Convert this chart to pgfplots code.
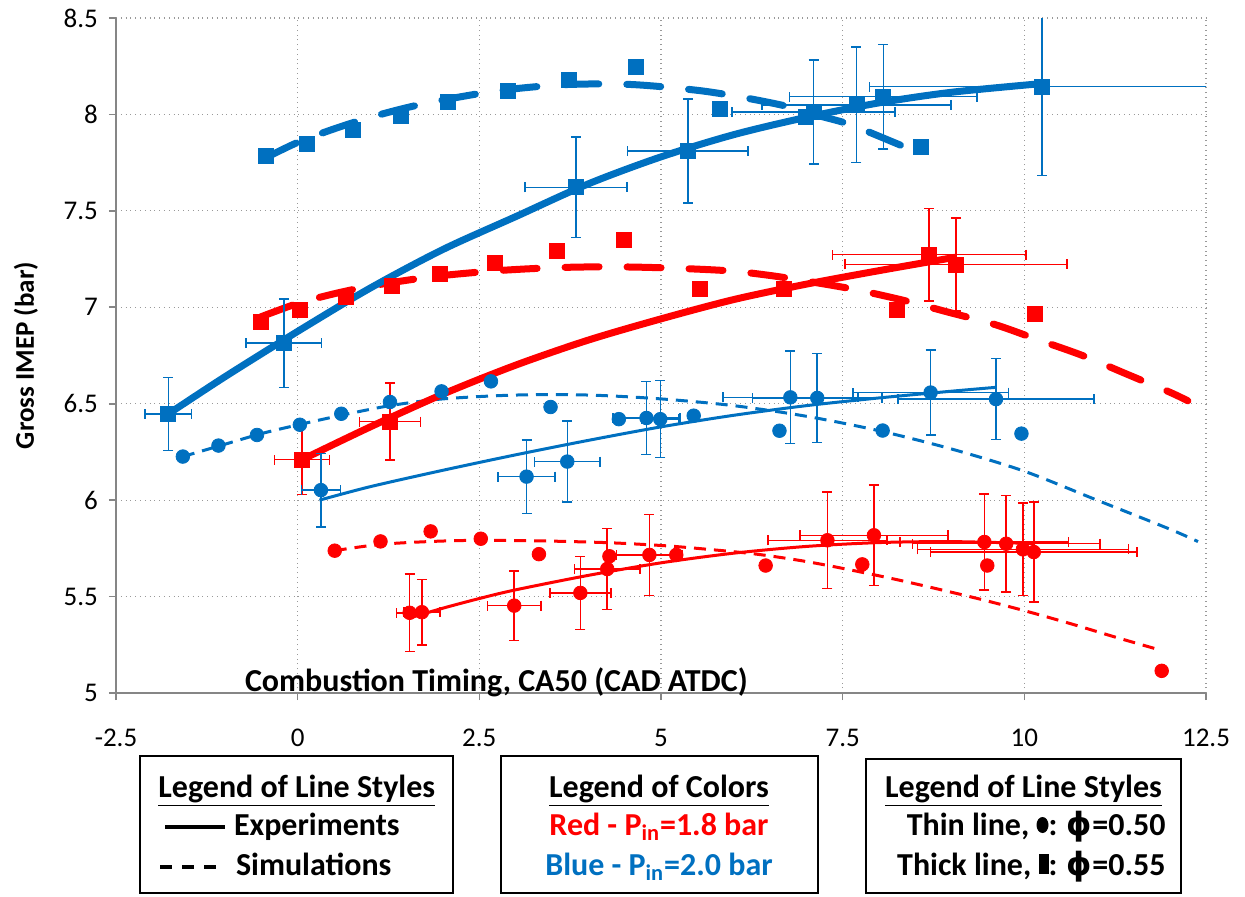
\documentclass[border=0pt]{standalone}
\usepackage{pgfplots}
\pgfplotsset{compat=1.18}
\usepackage{pgfplotstable}
\usepackage{fontspec}
\setmainfont{Carlito}
\newfontfamily\symfont{DejaVu Sans}
\definecolor{xblue}{RGB}{0,112,192}
\definecolor{xred}{RGB}{255,0,0}
\definecolor{axgray}{RGB}{134,134,134}

\pgfplotstableread{
x y ex ey
-1.78 6.447 0.32 0.19
-0.19 6.814 0.52 0.23
3.83 7.622 0.70 0.26
5.37 7.810 0.83 0.27
7.10 8.012 1.12 0.27
7.69 8.050 1.30 0.30
8.06 8.092 1.29 0.27
10.24 8.144 2.37 0.46
}\blueThickExp

\pgfplotstableread{
x y
-0.44 7.785
0.13 7.849
0.76 7.921
1.42 7.990
2.07 8.064
2.89 8.124
3.73 8.179
4.65 8.247
5.81 8.027
7.00 7.985
8.58 7.832
}\blueThickSim

\pgfplotstableread{
x y ex ey
0.32 6.052 0.27 0.19
3.15 6.122 0.39 0.19
3.71 6.200 0.45 0.21
4.80 6.426 0.46 0.19
4.99 6.420 0.26 0.20
6.78 6.533 0.93 0.24
7.15 6.530 0.89 0.23
8.71 6.558 1.07 0.22
9.61 6.524 1.35 0.21
}\blueThinExp

\pgfplotstableread{
x y
-1.58 6.226
-1.09 6.283
-0.56 6.338
0.03 6.391
0.60 6.448
1.27 6.509
1.98 6.564
2.66 6.616
3.48 6.483
4.42 6.420
5.45 6.438
6.63 6.360
8.05 6.361
9.96 6.345
}\blueThinSim

\pgfplotstableread{
x y ex ey
0.06 6.210 0.38 0.18
1.27 6.407 0.42 0.20
8.69 7.273 1.33 0.24
9.06 7.222 1.53 0.24
}\redThickExp

\pgfplotstableread{
x y
-0.51 6.926
0.03 6.986
0.67 7.055
1.29 7.110
1.96 7.172
2.71 7.230
3.57 7.290
4.49 7.347
5.54 7.096
6.69 7.093
8.25 6.986
10.14 6.964
}\redThickSim

\pgfplotstableread{
x y ex ey
1.54 5.416 0.18 0.20
1.71 5.419 0.25 0.17
2.98 5.453 0.37 0.18
3.89 5.519 0.42 0.19
4.26 5.643 0.45 0.21
4.84 5.716 0.45 0.21
7.29 5.792 0.82 0.25
7.93 5.818 1.02 0.26
9.45 5.783 1.16 0.25
9.75 5.774 1.29 0.25
9.98 5.745 1.45 0.24
10.13 5.731 1.42 0.26
}\redThinExp

\pgfplotstableread{
x y
0.51 5.738
1.14 5.786
1.83 5.838
2.52 5.800
3.32 5.720
4.29 5.709
5.21 5.716
6.44 5.661
7.77 5.667
9.49 5.661
11.89 5.115
}\redThinSim

\newcommand\bigb{\fontsize{16}{19}\selectfont\bfseries}

\begin{document}
\begin{tikzpicture}
\path[use as bounding box] (-58pt,-101.5pt) rectangle (564.5pt,346.5pt);
\begin{axis}[
  at={(0,0)}, anchor=south west,
  scale only axis, width=545pt, height=337.5pt,
  xmin=-2.5, xmax=12.5, ymin=5, ymax=8.5,
  axis x line*=bottom, axis y line*=left,
  axis line style={draw=axgray, line width=1pt, -},
  xtick={-2.5,0,2.5,5,7.5,10,12.5},
  xticklabels={-2.5,0,2.5,5,7.5,10,12.5},
  ytick={5,5.5,6,6.5,7,7.5,8,8.5},
  yticklabels={5,5.5,6,6.5,7,7.5,8,8.5},
  tick align=outside, major tick length=3.5pt,
  tick style={draw=axgray, line width=0.8pt},
  grid=major,
  major grid style={draw=gray!80, dotted, line width=0.6pt},
  tick label style={font=\fontsize{13.5}{16}\selectfont},
  xticklabel style={yshift=-11pt},
  yticklabel style={xshift=-2pt},
  /pgf/number format/assume math mode=true,
  xlabel={Combustion Timing, CA50 (CAD ATDC)},
  xlabel style={at={(axis description cs:0,0)}, anchor=base west, xshift=61pt, yshift=1pt, font=\bigb},
  ylabel={Gross IMEP (bar)},
  ylabel style={at={(axis description cs:-0.0826,0.5)}, anchor=center, font=\fontsize{13.5}{16}\selectfont\bfseries},
  clip=true,
]
% ---- trend / simulation curves ----
\addplot[xblue, line width=3.5pt, line cap=round, dash pattern=on 17pt off 14pt, smooth] coordinates {
(-0.44,7.775) (0,7.855) (0.5,7.925) (1,7.985) (1.5,8.035) (2,8.075) (2.8,8.125) (3.7,8.155) (4.6,8.155) (5.5,8.125) (6.1,8.09) (6.7,8.045) (7.0,8.01) (7.5,7.96) (7.8,7.918) (8.3,7.84)};
\addplot[xred, line width=3.5pt, line cap=round, dash pattern=on 17pt off 14pt, smooth] coordinates {
(-0.51,6.95) (0,7.02) (0.5,7.07) (1,7.11) (1.5,7.14) (2,7.165) (2.75,7.19) (3.5,7.205) (4.25,7.21) (5,7.205) (5.9,7.19) (6.5,7.165) (7.1,7.13) (7.7,7.09) (8.35,7.035) (8.95,6.975) (9.6,6.91) (10.2,6.83) (10.8,6.75) (11.4,6.655) (12.0,6.56) (12.25,6.515)};
\addplot[xblue, line width=1.5pt, dash pattern=on 6pt off 4pt, smooth] coordinates {
(-1.58,6.226) (-1,6.29) (-0.5,6.345) (0,6.39) (0.6,6.44) (1.27,6.49) (2,6.525) (3,6.545) (4,6.545) (5,6.525) (6,6.49) (7,6.435) (8,6.36) (9,6.265) (10,6.15) (11,6.0) (12,5.85) (12.39,5.785)};
\addplot[xred, line width=1.5pt, dash pattern=on 6pt off 4pt, smooth] coordinates {
(0.51,5.738) (1.18,5.772) (2.17,5.79) (3.15,5.79) (4.23,5.78) (5,5.765) (5.5,5.75) (6.27,5.722) (6.9,5.688) (7.45,5.65) (8.28,5.585) (9.28,5.497) (10,5.427) (10.65,5.358) (11.25,5.29) (11.83,5.227)};
\addplot[xblue, line width=3.5pt, smooth] coordinates {
(-1.78,6.447) (-1,6.64) (0,6.875) (1,7.10) (2,7.30) (3,7.47) (4,7.64) (5,7.78) (6,7.895) (7,7.985) (8,8.06) (9,8.115) (10.24,8.16)};
\addplot[xred, line width=3.5pt, smooth] coordinates {
(0.06,6.21) (1,6.38) (2,6.55) (3,6.70) (4,6.83) (5,6.94) (6,7.04) (7,7.12) (8,7.19) (9.06,7.26)};
\addplot[xblue, line width=1.5pt, smooth] coordinates {
(0.3,6.0) (1,6.07) (2,6.155) (3,6.235) (4,6.31) (5,6.38) (6,6.44) (7,6.49) (8,6.53) (9,6.565) (9.61,6.585)};
\addplot[xred, line width=1.5pt, smooth] coordinates {
(1.55,5.39) (2,5.44) (2.5,5.49) (3,5.535) (4,5.61) (5,5.675) (6,5.725) (7,5.76) (8,5.78) (9,5.785) (10.15,5.775)};

% ---- markers ----
\addplot[only marks, mark=square*, mark size=3.75pt, mark options={draw=xblue, fill=xblue}] table[x=x,y=y] {\blueThickSim};
\addplot[only marks, mark=square*, mark size=3.75pt, mark options={draw=xred, fill=xred}] table[x=x,y=y] {\redThickSim};
\addplot[only marks, mark=*, mark size=3.4pt, mark options={draw=xblue, fill=xblue}] table[x=x,y=y] {\blueThinSim};
\addplot[only marks, mark=*, mark size=3.4pt, mark options={draw=xred, fill=xred}] table[x=x,y=y] {\redThinSim};

\addplot[only marks, xblue, mark=square*, mark size=3.75pt, mark options={draw=xblue, fill=xblue},
  error bars/.cd, x dir=both, x explicit, y dir=both, y explicit,
  error bar style={xblue, line width=0.75pt},
  error mark options={rotate=90, xblue, mark size=2.5pt, line width=0.75pt}]
  table[x=x, y=y, x error=ex, y error=ey] {\blueThickExp};
\addplot[only marks, xred, mark=square*, mark size=3.75pt, mark options={draw=xred, fill=xred},
  error bars/.cd, x dir=both, x explicit, y dir=both, y explicit,
  error bar style={xred, line width=0.75pt},
  error mark options={rotate=90, xred, mark size=2.5pt, line width=0.75pt}]
  table[x=x, y=y, x error=ex, y error=ey] {\redThickExp};
\addplot[only marks, xblue, mark=*, mark size=3.4pt, mark options={draw=xblue, fill=xblue},
  error bars/.cd, x dir=both, x explicit, y dir=both, y explicit,
  error bar style={xblue, line width=0.75pt},
  error mark options={rotate=90, xblue, mark size=2.5pt, line width=0.75pt}]
  table[x=x, y=y, x error=ex, y error=ey] {\blueThinExp};
\addplot[only marks, xred, mark=*, mark size=3.4pt, mark options={draw=xred, fill=xred},
  error bars/.cd, x dir=both, x explicit, y dir=both, y explicit,
  error bar style={xred, line width=0.75pt},
  error mark options={rotate=90, xred, mark size=2.5pt, line width=0.75pt}]
  table[x=x, y=y, x error=ex, y error=ey] {\redThinExp};
\end{axis}

% ---- legend boxes ----
\draw[line width=0.75pt] (12pt,-31.5pt) rectangle (168.5pt,-100pt);
\draw[line width=0.75pt] (192.5pt,-31.5pt) rectangle (351pt,-100pt);
\draw[line width=0.75pt] (375pt,-33pt) rectangle (532.5pt,-100pt);

\node[anchor=base, font=\bigb] at (90.4pt,-52pt) {\underline{Legend of Line Styles}};
\draw[line width=1.6pt] (24.5pt,-67pt) -- (54.5pt,-67pt);
\node[anchor=base west, font=\bigb, inner sep=0pt] at (58.8pt,-71pt) {Experiments};
\draw[line width=1.6pt, dash pattern=on 6pt off 5pt] (22pt,-87pt) -- (53pt,-87pt);
\node[anchor=base west, font=\bigb, inner sep=0pt] at (59.8pt,-91pt) {Simulations};

\node[anchor=base, font=\bigb] at (271.5pt,-52pt) {\underline{Legend of Colors}};
\node[anchor=base, font=\bigb, text=xred] at (271.5pt,-71pt) {Red - P\textsubscript{in}=1.8 bar};
\node[anchor=base, font=\bigb, text=xblue] at (271.5pt,-91pt) {Blue - P\textsubscript{in}=2.0 bar};

\node[anchor=base, font=\bigb] at (453.75pt,-52pt) {\underline{Legend of Line Styles}};
\node[anchor=base east, font=\bigb, inner sep=0pt] at (525pt,-71pt) {Thin line, \raisebox{1pt}{\tikz\fill (0,0) ellipse (3pt and 4pt);}: {\symfont ϕ}=0.50};
\node[anchor=base east, font=\bigb, inner sep=0pt] at (525pt,-91pt) {Thick line, \raisebox{0.5pt}{\tikz\fill (0,0) rectangle (5pt,10pt);}: {\symfont ϕ}=0.55};
\end{tikzpicture}
\end{document}
